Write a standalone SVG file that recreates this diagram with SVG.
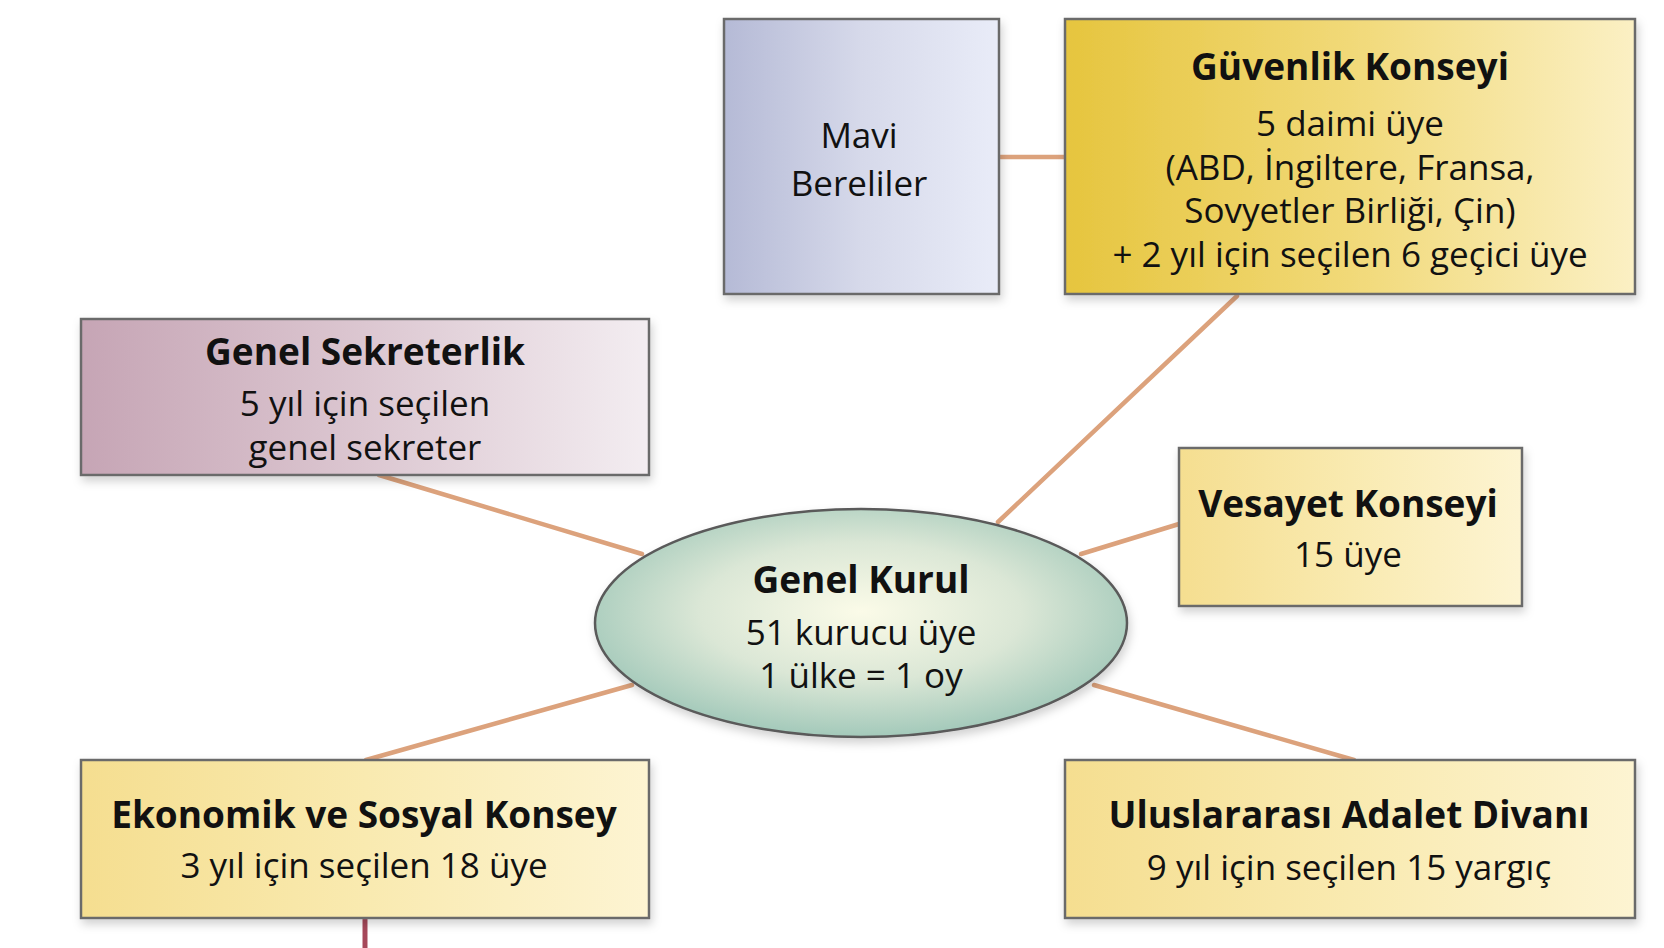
<svg xmlns="http://www.w3.org/2000/svg" width="1664" height="948" viewBox="0 0 1664 948">
<style>
.box{stroke:#6b6b6b;stroke-width:2.5}
.t{font-family:"Open Sans","Noto Sans","Liberation Sans",sans-serif;text-anchor:middle;fill:#111}
.b{font-weight:bold;font-size:37px}
.r{font-size:35px}
.con{stroke:#dca27c;stroke-width:4.5;fill:none;stroke-linecap:round}
</style>
<defs>
<filter id="sh" x="-10%" y="-10%" width="125%" height="130%">
<feDropShadow dx="2" dy="5" stdDeviation="5" flood-color="#000" flood-opacity="0.18"/>
</filter>
<linearGradient id="gBlue" x1="0" y1="0" x2="1" y2="0">
<stop offset="0" stop-color="#b5bad6"/><stop offset="0.5" stop-color="#d6d9ea"/><stop offset="1" stop-color="#e9ecf8"/>
</linearGradient>
<linearGradient id="gGold" x1="0" y1="0" x2="1" y2="0">
<stop offset="0" stop-color="#e6c53e"/><stop offset="0.5" stop-color="#f1d978"/><stop offset="1" stop-color="#fbf0c4"/>
</linearGradient>
<linearGradient id="gMauve" x1="0" y1="0" x2="1" y2="0">
<stop offset="0" stop-color="#c6a5b5"/><stop offset="0.5" stop-color="#dcc7d1"/><stop offset="1" stop-color="#f3edf1"/>
</linearGradient>
<linearGradient id="gCream" x1="0" y1="0" x2="1" y2="0">
<stop offset="0" stop-color="#f5de90"/><stop offset="0.5" stop-color="#f9eab0"/><stop offset="1" stop-color="#fdf4d2"/>
</linearGradient>
<radialGradient id="gEll" cx="0.5" cy="0.45" r="0.55">
<stop offset="0" stop-color="#fbfbe8"/><stop offset="0.55" stop-color="#dbe7d6"/><stop offset="1" stop-color="#a3c9ba"/>
</radialGradient>
</defs>
<rect width="1664" height="948" fill="#ffffff"/>
<g id="connectors">
<line class="con" x1="999" y1="157" x2="1065" y2="157"/>
<line class="con" x1="379" y1="475" x2="642" y2="554"/>
<line class="con" x1="1237" y1="296" x2="998" y2="522"/>
<line class="con" x1="1179" y1="524" x2="1081" y2="554"/>
<line class="con" x1="632" y1="685" x2="366" y2="760"/>
<line class="con" x1="1094" y1="685" x2="1354" y2="760"/>
<line x1="365" y1="918" x2="365" y2="948" stroke="#a6485a" stroke-width="5"/>
</g>
<g id="mavi-bereliler">
<rect class="box" x="724" y="19" width="275" height="275" fill="url(#gBlue)" filter="url(#sh)"/>
<text class="t r" x="859" y="148">Mavi</text>
<text class="t r" x="859" y="196">Bereliler</text>
</g>
<g id="guvenlik-konseyi">
<rect class="box" x="1065" y="19" width="570" height="275" fill="url(#gGold)" filter="url(#sh)"/>
<text class="t b" x="1350" y="80">Güvenlik Konseyi</text>
<text class="t r" x="1350" y="136">5 daimi üye</text>
<text class="t r" x="1350" y="180">(ABD, İngiltere, Fransa,</text>
<text class="t r" x="1350" y="223">Sovyetler Birliği, Çin)</text>
<text class="t r" x="1350" y="267">+ 2 yıl için seçilen 6 geçici üye</text>
</g>
<g id="genel-sekreterlik">
<rect class="box" x="81" y="319" width="568" height="156" fill="url(#gMauve)" filter="url(#sh)"/>
<text class="t b" x="365" y="365">Genel Sekreterlik</text>
<text class="t r" x="365" y="416">5 yıl için seçilen</text>
<text class="t r" x="365" y="460">genel sekreter</text>
</g>
<g id="vesayet-konseyi">
<rect class="box" x="1179" y="448" width="343" height="158" fill="url(#gCream)" filter="url(#sh)"/>
<text class="t b" x="1348" y="517">Vesayet Konseyi</text>
<text class="t r" x="1348" y="567">15 üye</text>
</g>
<g id="genel-kurul">
<ellipse cx="861" cy="623" rx="266" ry="114" fill="url(#gEll)" stroke="#5a5a5a" stroke-width="2.5" filter="url(#sh)"/>
<text class="t b" x="861" y="593">Genel Kurul</text>
<text class="t r" x="861" y="645">51 kurucu üye</text>
<text class="t r" x="861" y="688">1 ülke = 1 oy</text>
</g>
<g id="ekonomik-sosyal-konsey">
<rect class="box" x="81" y="760" width="568" height="158" fill="url(#gCream)" filter="url(#sh)"/>
<text class="t b" x="364" y="828">Ekonomik ve Sosyal Konsey</text>
<text class="t r" x="364" y="878">3 yıl için seçilen 18 üye</text>
</g>
<g id="uluslararasi-adalet-divani">
<rect class="box" x="1065" y="760" width="570" height="158" fill="url(#gCream)" filter="url(#sh)"/>
<text class="t b" x="1349" y="828">Uluslararası Adalet Divanı</text>
<text class="t r" x="1349" y="880">9 yıl için seçilen 15 yargıç</text>
</g>
</svg>
